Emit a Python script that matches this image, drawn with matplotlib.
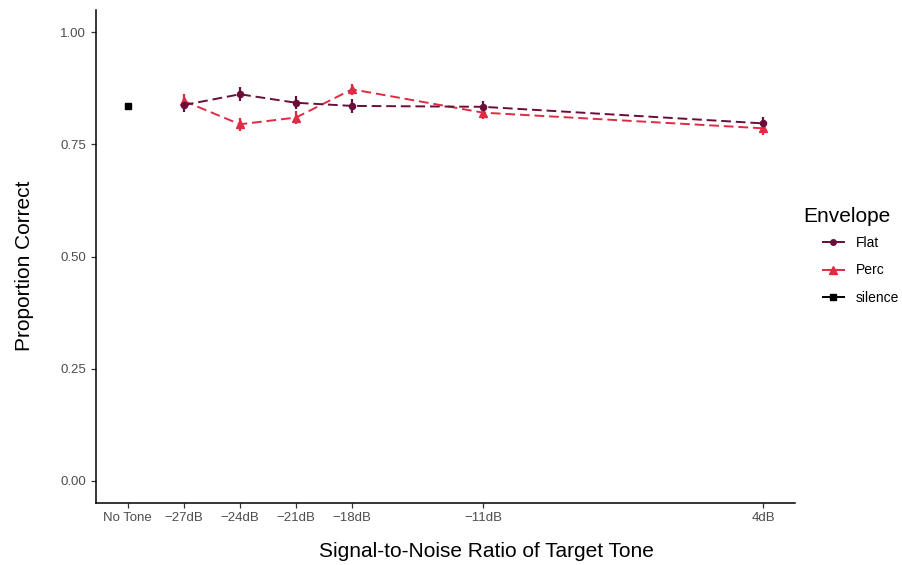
import matplotlib.pyplot as plt
from matplotlib.lines import Line2D

plt.rcParams["font.family"] = ["Liberation Sans", "DejaVu Sans"]

# SNR levels in dB; "No Tone" sits one step below the lowest level
snr_db = [-27, -24, -21, -18, -11, 4]
no_tone_x = -30
tick_pos = [-30, -27, -24, -21, -18, -11, 4]
tick_labels = ["No Tone", "\u221227dB", "\u221224dB", "\u221221dB", "\u221218dB", "\u221211dB", "4dB"]

flat_mean = [0.838, 0.862, 0.843, 0.836, 0.834, 0.797]
flat_se = [0.015, 0.016, 0.015, 0.015, 0.014, 0.015]
perc_mean = [0.847, 0.795, 0.810, 0.873, 0.821, 0.786]
perc_se = [0.015, 0.015, 0.015, 0.013, 0.015, 0.016]
silence_mean = [0.836]
silence_se = [0.003]

flat_col = "#6A0D3A"
perc_col = "#DF2B43"

fig = plt.figure(figsize=(9.02, 5.65), dpi=100)
ax = fig.add_axes([96 / 902, 62 / 565, 699 / 902, 493 / 565])

dash = (0, (5, 2.5))
ax.errorbar(snr_db, flat_mean, yerr=flat_se, color=flat_col, ls="none",
            capsize=0, elinewidth=1.6, zorder=2)
ax.errorbar(snr_db, perc_mean, yerr=perc_se, color=perc_col, ls="none",
            capsize=0, elinewidth=1.6, zorder=2)
ax.plot(snr_db, perc_mean, color=perc_col, lw=1.4, ls=dash, marker="^", ms=6, zorder=3)
ax.plot(snr_db, flat_mean, color=flat_col, lw=1.4, ls=dash, marker="o", ms=4.4, zorder=4)
ax.errorbar([no_tone_x], silence_mean, yerr=silence_se, color="black", ls="none",
            marker="s", ms=4, elinewidth=1.2, capsize=0, zorder=3)

ax.set_xlim(-31.7, 5.7)
ax.set_ylim(-0.05, 1.05)
ax.set_xticks(tick_pos)
ax.set_xticklabels(tick_labels)
ax.set_yticks([0, 0.25, 0.5, 0.75, 1.0])
ax.set_yticklabels(["0.00", "0.25", "0.50", "0.75", "1.00"])
ax.tick_params(axis="both", labelsize=9.5, labelcolor="#4D4D4D", color="#333333",
               length=3.5, width=0.9)
ax.tick_params(axis="x", pad=3)
for side in ["top", "right"]:
    ax.spines[side].set_visible(False)
for side in ["left", "bottom"]:
    ax.spines[side].set_linewidth(1.1)

ax.set_xlabel("Signal-to-Noise Ratio of Target Tone", fontsize=15)
ax.set_ylabel("Proportion Correct", fontsize=15)
ax.xaxis.set_label_coords(0.558, -0.08)
ax.yaxis.set_label_coords(-0.089, 0.481)

# legend: title drawn on its own, keys indented below it
fig.text(803 / 902, 1 - 216 / 565, "Envelope", fontsize=15, va="center", ha="left")
handles = [
    Line2D([], [], color=flat_col, lw=1.4, marker="o", ms=4),
    Line2D([], [], color=perc_col, lw=1.4, marker="^", ms=5.5),
    Line2D([], [], color="black", lw=1.4, marker="s", ms=4),
]
fig.legend(handles, ["Flat", "Perc", "silence"],
           loc="upper left", bbox_to_anchor=(823 / 902, 1 - 236 / 565),
           frameon=False, fontsize=10,
           handlelength=1.5, labelspacing=0.97, handletextpad=0.85,
           borderaxespad=0, borderpad=0)

fig.savefig("out.png", dpi=100)
